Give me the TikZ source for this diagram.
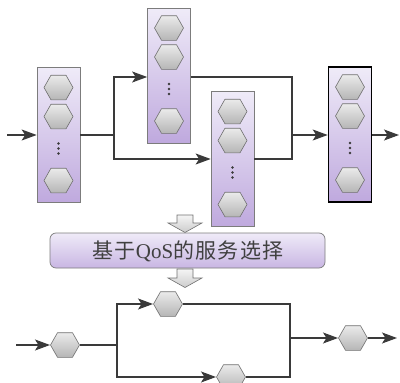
\documentclass[tikz,border=0pt]{standalone}
\usepackage{fontspec}
\newfontfamily\cjk[LetterSpace=6]{Noto Sans CJK SC}
\newfontfamily\latinserif{Liberation Serif}
\usetikzlibrary{arrows.meta}

\definecolor{colTop}{HTML}{EFEBF8}
\definecolor{colBot}{HTML}{BFA9DE}
\definecolor{hexTop}{HTML}{ECECEC}
\definecolor{hexBot}{HTML}{B4B4B4}
\definecolor{hexLine}{HTML}{707070}
\definecolor{lineCol}{HTML}{3A3A3A}
\definecolor{boxLine}{HTML}{7C7C7C}
\definecolor{txtCol}{HTML}{404040}

\tikzset{
  colbox/.style={draw=boxLine, line width=0.7pt, top color=colTop, bottom color=colBot,
    minimum width=43pt, minimum height=135pt, inner sep=0pt},
  colframe/.style={},
  hexpaint/.style={draw=hexLine, line width=0.6pt, top color=hexTop, bottom color=hexBot},
  % a service cell: an unframed box that carries a painted hexagon
  hexa/.style={rectangle, minimum width=30pt, minimum height=26pt, inner sep=0pt, outer sep=0pt,
    path picture={
      \path[hexpaint, shift={(path picture bounding box.center)}]
        (-14.5,0) -- (-7.5,-12.3) -- (7.5,-12.3) -- (14.5,0) -- (7.5,12.3) -- (-7.5,12.3) -- cycle;
    }},
  link/.style={draw=lineCol, line width=1.2pt},
  flow/.style={link, -{Stealth[length=15pt,width=11pt,inset=3.5pt]}},
  dotmark/.style={fill=lineCol},
  qosbox/.style={draw=boxLine, line width=0.7pt, rounded corners=6pt,
    top color=colTop, bottom color=colBot!85!white,
    minimum width=275pt, minimum height=35pt, inner sep=0pt},
  blockarrow/.style={draw=hexLine, line width=0.6pt, top color=gray!8, bottom color=gray!40},
  stack/.pic={
    \node[colbox, colframe] (-box) at (0,0) {};
    \node[hexa] (-h1) at (0,-47.5) {};
    \node[hexa] (-h2) at (0,-18.5) {};
    \fill[dotmark] (0,8.5) circle (1.3pt) (0,13.5) circle (1.3pt) (0,18.5) circle (1.3pt);
    \node[hexa] (-h3) at (0,45.5) {};
  }
}

\begin{document}
\begin{tikzpicture}[x=1pt, y=-1pt]
\useasboundingbox (0,0) rectangle (400,383);

% candidate service stacks
\pic (c1) at (58.5,135) {stack};
\pic (c2) at (169,75.5) {stack};
\pic (c3) at (232.5,159) {stack};
\pic[colframe/.style={draw=black, line width=1.6pt}] (c4) at (350,134.5) {stack};

% abstract workflow connectors
\coordinate (in1) at (7,135);
\coordinate (b1) at (114,135);
\coordinate (b1u) at (114,77);
\coordinate (b1d) at (114,159);
\coordinate (j1u) at (292,77);
\coordinate (j1d) at (292,159);
\coordinate (j1) at (292,135);
\coordinate (out1) at (399,135);

\draw[flow] (in1) -- (c1-box);
\draw[link] (c1-box.east) -- (b1);
\draw[flow] (b1) -- (b1u) -- (b1u -| c2-box.west);
\draw[flow] (b1) -- (b1d) -- (c3-box.west);
\draw[link] (b1u -| c2-box.east) -- (j1u) -- (j1d) -- (c3-box.east);
\draw[flow] (j1) -- (j1 -| c4-box.west);
\draw[flow] (j1 -| c4-box.east) -- (out1);

% selection step
\path[blockarrow] (177,215) -- (193,215) -- (193,223) -- (202,223) -- (185,232.5)
  -- (168,223) -- (177,223) -- cycle;
\node[qosbox] (qos) at (187.5,250.5) {};
\node[text=txtCol, inner sep=0pt] (qostext) at (188,251)
  {\fontsize{21}{24}\selectfont\cjk 基于{\latinserif\fontsize{21}{24}\selectfont QoS}的服务选择};
\path[blockarrow] (177,269) -- (193,269) -- (193,278) -- (202,278) -- (185,287.5)
  -- (168,278) -- (177,278) -- cycle;

% concrete workflow
\node[hexa] (h0) at (65,345) {};
\node[hexa] (h1) at (168,304) {};
\node[hexa] (h2) at (231,377) {};
\node[hexa] (h3) at (353,338) {};

\coordinate (in2) at (16,345);
\coordinate (b2) at (117,345);
\coordinate (b2u) at (117,304);
\coordinate (b2d) at (117,377);
\coordinate (j2u) at (290,304);
\coordinate (j2d) at (290,377);
\coordinate (j2) at (290,338);
\coordinate (out2) at (397,338);

\draw[flow] (in2) -- (h0);
\draw[link] (h0) -- (b2);
\draw[flow] (b2) -- (b2u) -- (h1);
\draw[flow] (b2) -- (b2d) -- (h2);
\draw[link] (h1) -- (j2u) -- (j2d) -- (h2);
\draw[flow] (j2) -- (h3);
\draw[flow] (h3) -- (out2);
\end{tikzpicture}
\end{document}
